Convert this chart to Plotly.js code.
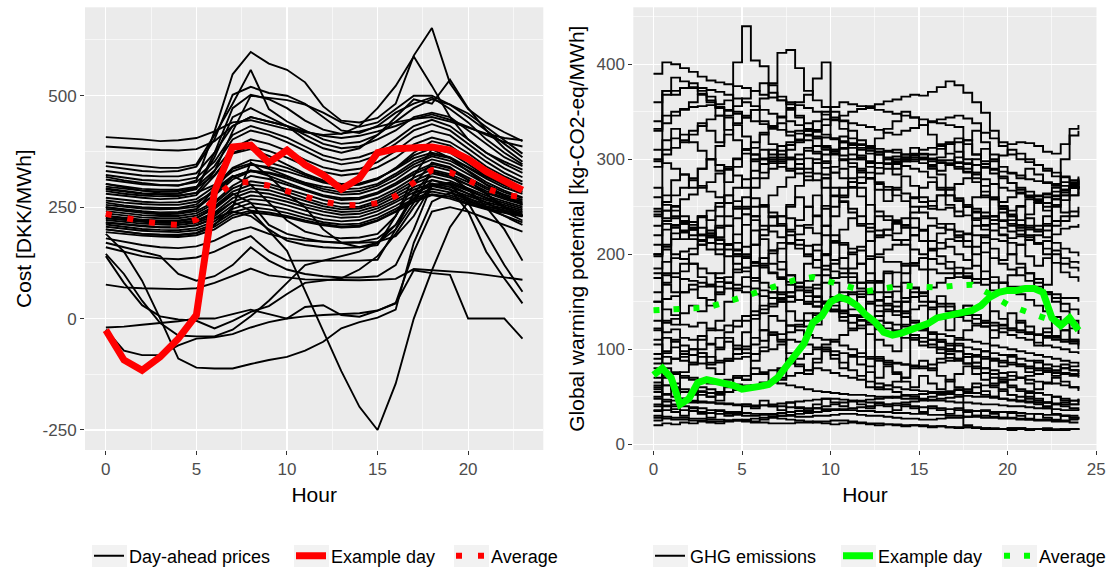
<!DOCTYPE html>
<html>
<head>
<meta charset="utf-8">
<script src="https://cdn.plot.ly/plotly-3.0.1.min.js"></script>
<style>html,body{margin:0;padding:0;background:#fff;}#chart{width:1110px;height:571px;}</style>
</head>
<body>
<div id="chart"></div>
<script>
// ---------- Left panel: day-ahead prices [DKK/MWh], hours 0..23 ----------
const priceHours = [0,1,2,3,4,5,6,7,8,9,10,11,12,13,14,15,16,17,18,19,20,21,22,23];
const priceTicks = [0,5,10,15,20];
const costTicks = [-250,0,250,500];
const costTickText = ['-250','0','250','500'];

const price01 = [407,405,402,398,400,405,420,440,445,435,425,418,412,415,420,430,440,448,452,442,428,415,405,400];
const price02 = [386,383,380,378,377,380,398,432,452,442,432,420,410,405,410,420,432,448,458,446,430,412,396,386];
const price03 = [318,310,304,300,298,310,420,548,598,572,558,530,476,444,440,450,482,590,652,528,470,440,418,398];
const price04 = [302,294,287,282,281,290,372,472,502,492,472,444,424,414,432,472,522,588,522,452,402,372,352,334];
const price05 = [292,286,281,279,280,293,362,452,472,452,432,402,382,372,382,412,452,492,482,536,472,422,382,352];
const price06 = [350,346,341,338,338,346,412,482,558,470,442,422,402,392,396,412,442,472,492,480,452,422,392,362];
const price07 = [342,336,331,329,331,341,402,502,520,506,500,482,452,422,416,432,462,482,496,470,440,402,372,346];
const price08 = [331,326,321,319,319,326,372,432,452,442,432,412,392,382,386,402,422,452,462,452,422,392,362,342];
const price09 = [322,316,311,309,309,316,352,412,432,420,406,386,366,356,362,376,402,432,446,432,402,372,347,327];
const price10 = [312,306,301,299,299,306,342,402,422,412,396,376,356,346,352,366,392,422,436,422,392,362,337,317];
const price11 = [302,296,291,289,289,296,332,382,402,392,376,356,339,331,336,351,376,406,421,411,382,352,327,307];
const price12 = [296,291,287,285,286,293,322,372,386,376,361,343,329,321,326,339,361,391,406,396,371,341,319,301];
const price13 = [286,280,276,274,275,282,300,330,345,340,330,318,305,298,300,312,338,372,398,388,360,330,308,292];
const price14 = [280,275,271,268,270,277,320,370,380,365,345,325,310,302,303,315,335,360,372,362,340,318,300,288];
const price15 = [271,266,262,260,261,268,296,338,356,350,338,322,308,300,302,314,336,366,382,372,346,320,299,284];
const price16 = [265,260,257,255,255,262,285,318,332,328,318,305,296,290,292,302,325,352,368,360,338,314,294,280];
const price17 = [260,254,250,248,248,256,290,336,348,336,320,303,291,283,286,298,320,346,364,354,332,306,287,272];
const price18 = [255,251,247,245,246,251,276,312,330,326,314,300,286,278,280,292,312,340,357,347,324,301,283,270];
const price19 = [250,245,241,238,239,246,278,318,332,320,305,290,277,270,271,283,304,329,347,337,316,295,278,266];
const price20 = [246,241,237,234,235,241,262,298,320,313,300,286,274,266,268,280,300,324,342,332,312,291,275,262];
const price21 = [241,236,232,230,230,236,258,292,308,302,290,277,266,258,259,271,291,316,334,324,306,286,271,259];
const price22 = [236,231,227,225,225,231,252,285,300,296,284,270,258,250,251,264,285,309,326,316,300,282,268,256];
const price23 = [231,226,222,220,220,226,246,278,292,288,276,263,252,245,247,259,279,302,319,309,293,276,263,251];
const price24 = [226,221,217,215,215,220,238,270,285,280,269,256,246,239,241,253,273,295,311,302,287,271,259,247];
const price25 = [221,217,213,211,210,215,230,262,276,272,262,250,240,233,235,247,266,289,303,295,281,266,255,243];
const price26 = [216,211,207,205,204,209,224,254,268,264,254,242,232,226,228,241,261,283,297,289,275,261,251,239];
const price27 = [211,206,201,199,198,203,218,246,259,254,245,233,223,218,221,233,253,276,291,283,269,256,247,236];
const price28 = [206,201,197,195,194,198,212,238,250,245,237,226,216,211,213,226,246,269,285,277,263,251,243,233];
const price29 = [200,195,190,188,187,191,206,232,242,238,230,220,212,206,209,221,241,266,279,273,259,247,239,231];
const price30 = [194,190,186,184,183,187,200,226,238,234,227,217,209,204,206,219,239,261,277,269,256,245,237,229];
const price31 = [250,244,240,236,236,245,290,320,300,260,220,195,185,180,182,190,230,300,350,340,310,280,250,230];
const price32 = [230,225,220,218,218,225,250,280,260,210,190,180,172,170,170,172,185,230,300,300,280,260,240,220];
const price33 = [215,212,208,205,205,210,225,240,230,200,175,165,160,158,160,170,200,260,330,320,290,250,200,130];
const price34 = [180,172,165,160,158,162,175,195,205,190,180,175,172,170,172,180,210,270,310,300,260,190,120,60];
const price35 = [160,150,140,135,133,137,150,170,185,150,130,130,130,130,130,132,200,280,300,290,240,150,90,34];
const price36 = [76,70,68,67,66,68,80,96,112,97,92,88,87,86,86,87,89,111,108,106,103,98,92,87];
const price37 = [190,150,85,0,-90,-110,-112,-112,-102,-93,-86,-72,-52,-22,-8,2,20,170,262,282,266,246,231,216];
const price38 = [225,222,218,215,214,218,235,262,242,198,152,62,-30,-118,-198,-250,-146,0,108,205,262,252,242,232];
const price39 = [-20,-18,-14,-10,-6,0,0,10,20,10,0,26,30,8,4,18,34,108,102,98,0,0,0,-45];
const price40 = [140,80,30,5,-2,-5,-22,-5,15,28,55,80,85,90,110,140,190,250,300,290,270,250,230,210];
const price41 = [145,100,40,-10,-38,-40,-40,-25,5,40,80,120,130,140,150,170,210,280,330,320,300,280,250,230];
const price42 = [-25,-72,-82,-82,-60,-45,-42,-35,-20,-8,0,5,8,10,12,18,35,150,240,250,240,225,210,195];
const price43 = [170,160,150,140,100,85,95,120,160,130,110,100,95,92,92,95,120,200,300,305,290,270,250,230];
const price44 = [200,195,190,188,188,192,210,250,350,320,280,250,200,170,160,165,230,320,380,360,330,300,275,255];
const price45 = [290,285,280,278,276,282,330,420,500,495,490,480,462,440,430,440,470,500,500,480,460,430,400,370];

const priceExample = [-26,-93,-116,-86,-45,8,285,385,389,350,378,345,322,290,315,372,381,384,385,378,358,330,307,288];
const priceAverage = [235,225,218,213,210,222,270,305,306,298,287,274,262,255,254,259,275,305,333,328,310,292,278,272];

const priceDays = [price01,price02,price03,price04,price05,price06,price07,price08,price09,price10,
  price11,price12,price13,price14,price15,price16,price17,price18,price19,price20,
  price21,price22,price23,price24,price25,price26,price27,price28,price29,price30,
  price31,price32,price33,price34,price35,price36,price37,price38,price39,price40,
  price41,price42,price43,price44,price45];

// ---------- Right panel: GHG emissions [kg-CO2-eq/MWh], half-hourly 0..24 ----------
const ghgHours = [0,0.5,1,1.5,2,2.5,3,3.5,4,4.5,5,5.5,6,6.5,7,7.5,8,8.5,9,9.5,10,10.5,11,11.5,12,12.5,
  13,13.5,14,14.5,15,15.5,16,16.5,17,17.5,18,18.5,19,19.5,20,20.5,21,21.5,22,22.5,23,23.5,24];
const ghgXTicks = [0,5,10,15,20,25];
const ghgYTicks = [0,100,200,300,400];

const ghg01 = [390,402,400,396,392,387,383,381,379,377,375,372,368,365,362,360,357,354,350,347,344,341,338,336,334,331,328,326,330,333,336,339,342,344,346,343,338,328,322,318,316,318,317,314,308,306,316,332,336];
const ghg02 = [298,305,312,320,330,335,342,346,352,402,440,404,398,378,366,358,344,331,322,314,306,299,292,286,280,276,271,268,264,259,255,251,247,249,245,241,236,230,225,221,217,219,215,211,214,221,227,229,232];
const ghg03 = [248,255,262,270,280,290,300,314,326,338,346,352,364,380,412,415,396,372,362,355,342,332,322,316,311,305,300,297,293,290,287,281,270,262,257,252,248,244,240,236,232,230,228,226,230,262,268,270,272];
const ghg04 = [240,246,251,258,263,270,276,285,292,301,310,318,326,335,345,352,360,368,385,402,322,311,305,300,297,296,300,303,305,300,296,290,284,270,259,250,245,240,232,228,224,221,226,230,232,235,240,245,250];
const ghg05 = [292,368,372,375,376,375,373,371,368,364,360,356,352,348,344,340,336,332,329,326,322,318,315,312,309,305,308,310,302,298,300,305,311,318,322,316,305,298,290,282,275,268,261,255,250,261,265,270,268];
const ghg06 = [198,208,216,224,231,239,246,254,262,270,279,288,295,302,309,315,321,326,331,336,341,346,350,353,356,358,361,363,366,368,367,371,376,382,378,370,360,349,330,314,305,300,297,294,290,286,281,278,276];
const ghg07 = [332,372,386,382,375,369,360,346,331,320,311,305,301,298,296,300,305,309,314,312,308,304,300,302,298,296,295,298,300,302,305,300,297,294,290,287,284,279,274,270,267,264,260,257,254,252,257,262,265];
const ghg08 = [340,346,350,353,355,356,357,355,351,348,344,340,337,334,331,329,327,325,324,323,321,319,317,315,314,311,309,307,305,304,302,301,299,299,297,295,294,291,289,287,285,283,279,277,275,274,272,271,269];
const ghg09 = [50,310,322,326,318,309,300,294,289,283,270,259,250,239,230,224,215,209,204,199,194,185,176,170,161,151,155,161,170,165,159,150,145,140,135,130,127,124,120,118,115,112,110,107,104,102,100,97,95];
const ghg10 = [242,246,240,233,226,221,218,211,205,200,196,191,188,181,176,171,165,160,155,150,146,141,136,131,126,121,118,116,112,110,108,105,102,100,98,95,92,90,88,86,84,82,80,78,76,75,74,72,70];
const ghg11 = [60,62,58,55,54,52,50,52,55,58,60,62,65,66,70,252,272,286,300,305,310,312,315,310,306,60,58,55,52,50,48,50,52,55,58,56,54,52,50,48,46,45,44,42,40,42,44,46,48];
const ghg12 = [220,226,231,223,216,210,205,200,211,221,231,240,251,262,271,281,290,301,296,291,286,280,271,261,252,245,240,236,231,228,225,102,96,91,88,85,82,80,78,75,72,70,68,66,65,64,62,60,58];
const ghg13 = [150,153,156,160,163,166,168,171,176,181,186,191,196,201,206,211,221,231,241,251,261,270,276,281,286,291,295,300,302,305,301,298,296,294,292,290,300,311,305,251,240,231,220,211,200,191,181,176,171];
const ghg14 = [122,118,121,112,110,114,105,102,108,101,103,112,109,118,116,125,126,138,136,141,152,151,160,161,172,171,180,181,190,191,196,205,206,216,214,221,230,231,236,244,246,251,258,261,263,266,267,270,271];
const ghg15 = [230,232,228,225,220,215,212,240,290,300,310,305,300,296,292,288,285,282,278,270,262,255,248,240,232,225,220,215,210,205,200,195,190,185,180,175,170,220,240,235,230,225,218,212,206,200,196,192,190];
const ghg16 = [185,192,196,203,206,214,218,228,230,238,242,250,252,244,240,238,230,228,222,220,214,212,206,204,198,197,192,192,188,188,184,184,180,180,176,177,174,174,170,170,166,166,162,162,158,158,154,154,150];
const ghg17 = [80,85,90,95,100,110,120,130,150,200,250,280,300,310,305,300,295,290,285,280,150,140,135,130,128,125,122,120,118,115,112,110,108,106,104,102,100,98,96,94,92,90,88,86,84,82,80,78,76];
const ghg18 = [200,235,238,232,226,220,212,205,198,190,182,175,170,165,160,156,152,148,145,142,140,138,136,134,132,130,128,126,124,122,120,118,116,114,112,110,108,106,104,102,100,98,96,94,92,90,88,86,84];
const ghg19 = [130,128,132,126,124,128,122,120,125,130,135,140,138,145,150,155,152,148,145,150,155,160,158,155,150,146,142,140,138,142,146,150,148,145,140,136,132,128,125,122,120,118,116,115,114,112,110,108,106];
const ghg20 = [95,92,90,88,86,85,84,86,88,90,92,95,98,100,105,110,108,105,102,100,98,96,94,92,90,88,86,85,84,83,82,84,86,88,90,92,94,92,90,88,86,84,82,80,78,76,75,74,72];
const ghg21 = [70,72,74,70,68,66,64,66,68,70,72,74,76,78,80,85,90,95,100,105,110,115,120,125,130,135,140,145,150,155,160,165,170,175,180,185,260,262,258,255,260,265,262,258,264,270,268,272,280];
const ghg22 = [210,205,200,195,190,185,180,175,170,168,166,164,162,160,158,160,162,165,168,170,175,180,185,190,195,200,205,210,215,220,225,230,228,226,224,222,220,218,216,214,212,210,215,220,225,230,235,240,245];
const ghg23 = [28,27,26,26,25,25,24,24,25,25,24,23,23,22,22,22,23,23,24,24,25,25,24,23,22,22,21,21,20,20,20,19,19,18,18,18,17,17,16,16,17,17,16,16,15,15,16,16,17];
const ghg24 = [42,41,40,40,39,38,36,35,34,33,33,32,32,31,30,30,29,29,30,30,31,32,32,31,30,30,29,28,27,27,26,26,27,28,28,29,30,30,29,28,28,27,27,26,26,25,25,26,26];
const ghg25 = [55,53,50,48,46,45,44,43,42,41,40,40,41,42,43,44,45,46,47,48,48,47,46,45,44,43,42,41,40,40,39,38,38,37,36,36,35,35,34,34,33,33,32,32,31,31,30,30,30];
const ghg26 = [65,62,60,58,56,55,54,53,55,57,60,62,64,66,64,62,60,58,56,55,54,53,52,52,51,50,50,49,48,48,47,46,46,45,44,44,43,42,42,41,40,40,39,38,38,37,36,36,35];
const ghg27 = [85,80,76,72,70,68,66,65,64,63,62,62,63,65,68,72,75,78,80,78,75,72,70,68,66,64,62,60,58,57,56,55,54,53,52,51,50,50,49,48,47,46,45,44,44,43,42,42,41];
const ghg28 = [35,36,37,36,35,34,33,32,32,31,30,30,31,32,33,34,35,36,38,40,42,44,45,46,47,48,49,50,51,52,53,54,55,56,57,58,60,62,64,66,68,70,72,74,76,78,80,82,84];
const ghg29 = [48,47,46,45,45,44,44,43,43,42,42,41,41,40,40,39,39,38,38,37,37,36,36,35,35,34,34,33,33,32,32,31,31,30,30,29,29,28,28,27,27,26,26,25,25,24,24,23,23];
const ghg30 = [30,29,28,28,27,27,26,26,25,25,26,27,28,29,30,31,32,33,34,35,36,37,38,39,40,41,42,43,44,45,46,47,48,49,50,20,18,17,16,16,17,17,16,16,15,15,16,16,17];
const ghg31 = [110,112,108,104,100,96,92,88,90,95,100,105,120,135,130,125,120,115,112,110,108,104,100,96,92,90,88,86,84,82,80,78,90,100,110,120,125,130,128,125,122,120,118,115,112,110,108,106,104];
const ghg32 = [180,178,176,174,172,170,168,166,164,162,160,158,156,154,152,150,170,190,210,230,250,260,270,275,280,285,290,295,300,305,310,312,314,316,318,320,305,295,285,280,275,270,266,262,260,258,300,325,330];
const ghg33 = [25,180,230,235,228,220,225,215,210,205,200,210,220,230,240,250,260,250,240,230,220,210,200,190,180,170,160,150,140,130,120,110,100,95,90,85,80,75,70,65,60,58,56,54,52,50,48,46,44];
const ghg34 = [160,170,180,190,200,210,220,230,240,250,260,270,280,290,300,310,320,330,340,350,355,360,358,356,354,352,350,348,346,344,342,340,338,336,334,300,280,260,240,220,200,190,180,170,160,150,140,130,120];
const ghg35 = [360,372,368,375,380,372,366,358,362,350,344,352,340,332,338,325,318,330,322,310,305,318,312,300,296,308,302,290,298,306,300,292,288,296,302,320,330,318,300,292,286,280,290,284,276,272,282,276,270];
const ghg36 = [245,238,250,232,226,240,222,218,230,212,208,225,216,204,212,226,236,250,262,248,240,256,244,232,228,240,236,222,230,238,226,214,222,232,218,208,200,212,206,194,200,210,198,188,196,204,190,186,182];
const ghg37 = [175,168,160,182,190,176,166,158,170,184,196,210,226,240,232,220,210,198,186,200,212,196,180,170,160,172,182,166,154,160,150,142,156,148,138,146,136,128,140,132,122,130,124,116,122,114,120,110,108];
const ghg38 = [105,98,110,92,86,96,80,74,88,100,118,132,146,160,150,140,130,124,138,150,142,130,122,136,148,140,128,118,126,112,104,116,108,98,106,92,86,98,90,82,94,84,76,88,80,72,84,78,74];
const ghg39 = [58,52,64,48,44,56,50,46,60,72,68,80,74,66,78,90,82,74,86,98,90,80,92,84,76,70,82,74,66,60,72,64,58,68,60,54,64,56,50,58,52,46,54,48,44,50,46,42,48];
const ghg40 = [36,40,34,30,38,32,28,36,30,34,42,38,46,40,36,44,38,34,42,48,44,40,46,42,38,44,40,36,42,38,34,40,36,32,38,34,30,36,32,28,34,30,26,32,28,26,30,28,26];
const ghg41 = [270,262,278,284,270,290,300,288,276,292,306,298,286,300,314,302,290,278,296,284,270,262,276,290,280,268,256,270,282,272,260,248,262,252,240,250,238,226,236,248,240,228,242,254,246,258,262,270,278];
const ghg42 = [310,320,332,318,326,338,330,318,344,336,324,312,328,316,302,318,330,320,308,296,310,324,316,304,292,308,296,284,298,312,306,294,302,316,308,296,286,272,260,248,236,250,238,226,240,252,244,262,276];
const ghg43 = [20,22,21,23,22,24,23,22,24,26,25,24,26,28,27,26,25,24,23,22,21,22,23,22,21,20,21,20,19,20,19,18,19,18,17,18,17,16,17,16,15,16,15,16,17,16,15,16,15];
const ghg44 = [150,142,136,160,168,154,146,180,210,198,186,172,190,204,192,178,166,150,164,178,170,156,142,158,170,160,148,136,150,164,156,144,132,120,134,146,136,124,112,126,138,128,116,104,118,130,120,110,100];
const ghg45 = [62,70,58,76,84,92,86,100,112,104,96,88,102,116,108,96,84,78,90,102,94,86,78,72,82,92,84,76,70,80,88,80,72,66,74,82,74,68,62,70,76,70,64,58,64,70,66,60,56];
const ghg46 = [330,338,346,352,360,368,362,354,346,356,364,372,380,370,362,354,346,338,330,342,350,340,330,320,312,322,332,340,350,344,336,326,316,306,296,286,276,266,258,250,242,236,230,224,218,212,206,202,198];
const ghg47 = [40,45,42,48,52,60,58,55,62,70,68,300,310,305,298,290,300,312,306,298,286,290,280,270,60,58,62,66,70,260,270,276,268,262,256,250,244,238,60,56,52,50,48,46,44,42,40,38,36];
const ghg48 = [200,210,222,216,228,240,236,250,262,256,248,240,120,115,110,118,124,130,126,200,214,226,238,230,224,218,226,234,228,220,214,206,198,192,186,180,174,168,162,170,178,186,180,174,168,250,262,274,282];
const ghg49 = [120,130,126,138,146,140,152,160,170,164,176,188,196,190,184,178,170,162,156,148,140,134,128,122,116,110,104,98,180,190,196,204,212,208,200,194,188,182,176,170,164,158,152,146,140,134,128,122,116];
const ghg50 = [260,252,246,240,234,228,222,216,210,204,198,192,186,180,174,168,162,156,150,280,292,300,296,288,280,274,268,262,256,250,244,238,232,226,220,214,208,202,196,190,184,178,172,166,160,154,148,142,136];
const ghg51 = [90,96,102,98,94,100,106,112,118,124,130,136,142,148,154,160,166,172,178,184,190,196,202,208,214,220,226,232,238,244,250,256,262,268,274,280,286,292,298,304,310,306,300,294,288,282,276,270,264];
const ghg52 = [300,296,290,284,278,272,266,260,254,248,242,236,230,224,218,212,206,200,194,188,182,176,170,164,158,152,146,140,134,128,122,116,110,104,98,92,86,80,74,68,62,56,50,44,38,32,30,28,26];

const ghgExample = [73,80,70,42,48,65,68,66,64,62,58,59,61,63,70,82,95,106,128,135,150,155,152,146,136,129,118,115,117,120,124,127,133,135,136,138,141,146,155,160,162,162,164,164,160,133,125,133,120];
const ghgAvgHours = [0,1,2,3,4,5,6,7,8,9,10,11,12,13,14,15,16,17,18,19,20,21,22,23,24];
const ghgAverage = [141,142,142,144,149,155,161,166,173,176,171,165,161,164,167,166,165,167,168,158,147,140,133,127,124];

const ghgDays = [ghg01,ghg02,ghg03,ghg04,ghg05,ghg06,ghg07,ghg08,ghg09,ghg10,ghg11,ghg12,ghg13,ghg14,ghg15,ghg16,ghg17,
  ghg18,ghg19,ghg20,ghg21,ghg22,ghg23,ghg24,ghg25,ghg26,ghg27,ghg28,ghg29,ghg30,ghg31,ghg32,ghg33,ghg34,
  ghg35,ghg36,ghg37,ghg38,ghg39,ghg40,ghg41,ghg42,ghg43,ghg44,ghg45,ghg46,ghg47,ghg48,ghg49,ghg50,ghg51,ghg52];

// ---------- Traces ----------
const traces = [];
priceDays.forEach((d, i) => {
  traces.push({x: priceHours, y: d, type: 'scatter', mode: 'lines', xaxis: 'x', yaxis: 'y',
    line: {color: '#000000', width: 1.9}, name: 'Day-ahead prices', legendgroup: 'p',
    showlegend: i === 0, legend: 'legend', hoverinfo: 'skip'});
});
traces.push({x: priceHours, y: priceExample, type: 'scatter', mode: 'lines', xaxis: 'x', yaxis: 'y',
  line: {color: '#FF0000', width: 7}, name: 'Example day', legend: 'legend3', hoverinfo: 'skip'});
traces.push({x: priceHours, y: priceAverage, type: 'scatter', mode: 'lines', xaxis: 'x', yaxis: 'y',
  line: {color: '#FF0000', width: 6, dash: '6px,16px'}, name: 'Average', legend: 'legend4', hoverinfo: 'skip'});

ghgDays.forEach((d, i) => {
  traces.push({x: ghgHours, y: d, type: 'scatter', mode: 'lines', xaxis: 'x2', yaxis: 'y2',
    line: {color: '#000000', width: 1.9, shape: 'hv'}, name: 'GHG emissions', legendgroup: 'g',
    showlegend: i === 0, legend: 'legend2', hoverinfo: 'skip'});
});
traces.push({x: ghgHours, y: ghgExample, type: 'scatter', mode: 'lines', xaxis: 'x2', yaxis: 'y2',
  line: {color: '#00FF00', width: 7}, name: 'Example day', legend: 'legend5', hoverinfo: 'skip'});
traces.push({x: ghgAvgHours, y: ghgAverage, type: 'scatter', mode: 'lines', xaxis: 'x2', yaxis: 'y2',
  line: {color: '#00FF00', width: 6, dash: '6px,14px'}, name: 'Average', legend: 'legend6', hoverinfo: 'skip'});

const FAM = 'Liberation Sans, Arial, sans-serif';
const tickFont = {family: FAM, size: 17, color: '#4D4D4D'};
const titleFont = {family: FAM, size: 21, color: '#000000'};
const gridCommon = {showgrid: true, gridcolor: '#FFFFFF', gridwidth: 1.2, zeroline: false, showline: false,
  ticks: 'outside', ticklen: 4, tickwidth: 1, tickcolor: '#333333', tickfont: tickFont, automargin: false};

const yDom = [1 - 450/571, 1 - 7.3/571];

// legend items: text starts at (x + 40) px
function legendAt(px) {
  return {orientation: 'h', x: px/1110, xanchor: 'left', y: 15/571, yanchor: 'middle',
    font: {family: FAM, size: 18, color: '#000000'}, bgcolor: 'rgba(0,0,0,0)', itemwidth: 30};
}
const legendX = [89, 650, 291, 451, 838, 999];
const keyBoxes = legendX.map(px => ({type: 'rect', xref: 'paper', yref: 'paper',
  x0: (px + 3)/1110, x1: (px + 38)/1110, y0: 4/571, y1: 26/571,
  fillcolor: '#F2F2F2', line: {width: 0}, layer: 'below'}));

const layout = {
  width: 1110, height: 571,
  margin: {l: 0, r: 0, t: 0, b: 0, autoexpand: false},
  paper_bgcolor: '#FFFFFF', plot_bgcolor: '#EBEBEB',
  font: {family: FAM, color: '#000000'},
  showlegend: true,
  shapes: keyBoxes,
  xaxis: Object.assign({}, gridCommon, {domain: [85/1110, 543.3/1110], range: [-1.15, 24.15],
    tickmode: 'array', tickvals: priceTicks,
    minor: {tickmode: 'linear', tick0: 2.5, dtick: 5, showgrid: true, gridcolor: '#FFFFFF', gridwidth: 0.6},
    title: {text: 'Hour', font: titleFont, standoff: 8}, anchor: 'y'}),
  yaxis: Object.assign({}, gridCommon, {domain: yDom, range: [-294.9, 698.3],
    tickmode: 'array', tickvals: costTicks, ticktext: costTickText,
    minor: {tickmode: 'linear', tick0: 125, dtick: 250, showgrid: true, gridcolor: '#FFFFFF', gridwidth: 0.6},
    title: {text: 'Cost [DKK/MWh]', font: titleFont, standoff: 5}, anchor: 'x'}),
  xaxis2: Object.assign({}, gridCommon, {domain: [633.3/1110, 1096.5/1110], range: [-1.14, 25.02],
    tickmode: 'array', tickvals: ghgXTicks,
    minor: {tickmode: 'linear', tick0: 2.5, dtick: 5, showgrid: true, gridcolor: '#FFFFFF', gridwidth: 0.6},
    title: {text: 'Hour', font: titleFont, standoff: 8}, anchor: 'y2'}),
  yaxis2: Object.assign({}, gridCommon, {domain: yDom, range: [-6.0, 460],
    tickmode: 'array', tickvals: ghgYTicks,
    minor: {tickmode: 'linear', tick0: 50, dtick: 100, showgrid: true, gridcolor: '#FFFFFF', gridwidth: 0.6},
    title: {text: 'Global warming potential [kg-CO2-eq/MWh]', font: titleFont, standoff: 6}, anchor: 'x2'}),
  legend: legendAt(legendX[0]),
  legend2: legendAt(legendX[1]),
  legend3: legendAt(legendX[2]),
  legend4: legendAt(legendX[3]),
  legend5: legendAt(legendX[4]),
  legend6: legendAt(legendX[5])
};

Plotly.newPlot('chart', traces, layout, {staticPlot: true, displayModeBar: false});
</script>
</body>
</html>
